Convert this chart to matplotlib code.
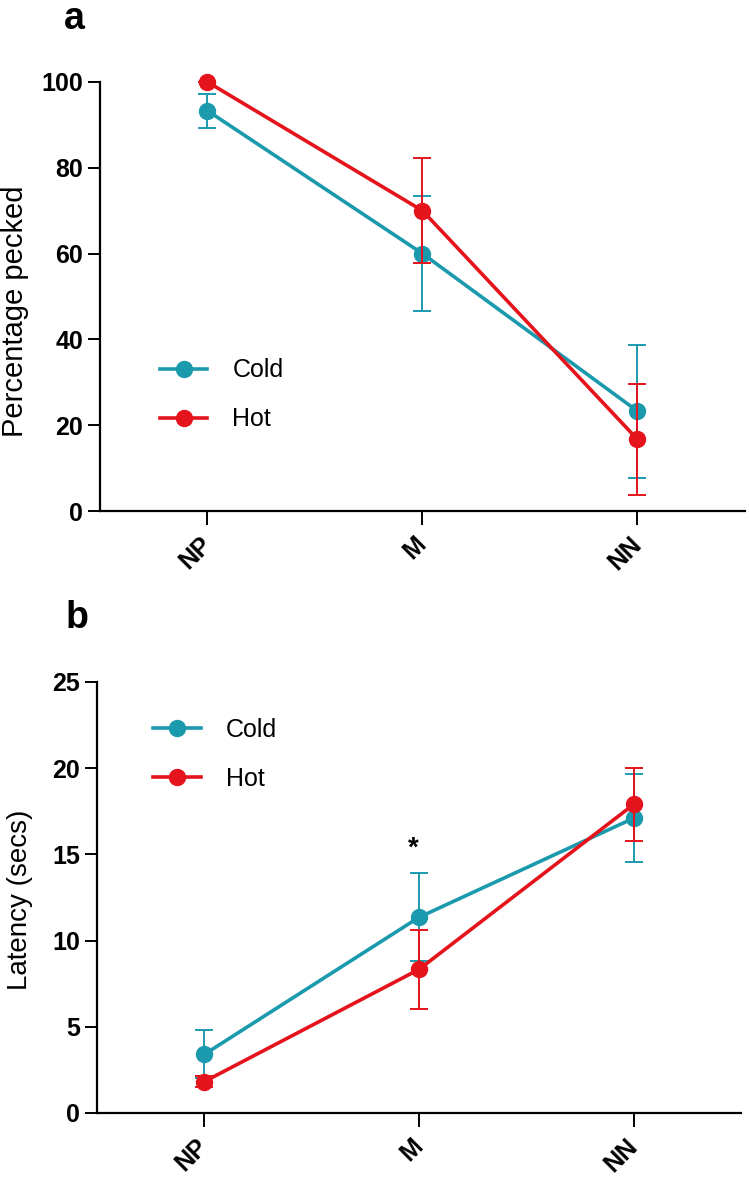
import numpy as np
import matplotlib
matplotlib.use("Agg")
import matplotlib.pyplot as plt
from matplotlib.lines import Line2D

plt.rcParams['font.family'] = ['Liberation Sans', 'DejaVu Sans']

# data
groups = ['NP', 'M', 'NN']

# panel a: percentage pecked
cold_pct = [93.3, 60.0, 23.3]
cold_pct_err = [4.0, 13.4, 15.5]
hot_pct = [100.0, 70.0, 16.7]
hot_pct_err = [0.0, 12.2, 13.0]

# panel b: latency (secs)
cold_lat = [3.4, 11.35, 17.1]
cold_lat_err = [1.4, 2.55, 2.55]
hot_lat = [1.82, 8.33, 17.9]
hot_lat_err = [0.3, 2.3, 2.1]

cold_col = '#1b9aae'
hot_col = '#e5131b'

fig = plt.figure(figsize=(7.49, 11.81), dpi=100)
ax1 = fig.add_axes([0.1335, 0.5673, 0.861, 0.3633])
ax2 = fig.add_axes([0.1295, 0.0576, 0.860, 0.3650])

x = np.arange(len(groups))


def draw(ax, cold, cold_err, hot, hot_err):
    ax.errorbar(x, cold, yerr=cold_err, color=cold_col, lw=2.6, marker='o', ms=11.5,
                elinewidth=1.4, capsize=6.5, capthick=1.4, zorder=3, clip_on=False)
    ax.errorbar(x, hot, yerr=hot_err, color=hot_col, lw=2.6, marker='o', ms=11.5,
                elinewidth=1.4, capsize=6.5, capthick=1.4, zorder=4, clip_on=False)
    ax.set_xlim(-0.5, 2.5)
    ax.set_xticks(x)
    ax.set_xticklabels(groups, rotation=45, ha='right', va='center',
                       rotation_mode='anchor', fontsize=18, fontweight='bold')
    for s in ['top', 'right']:
        ax.spines[s].set_visible(False)
    for s in ['left', 'bottom']:
        ax.spines[s].set_linewidth(1.6)
    ax.tick_params(axis='both', direction='out', length=9, width=1.4, labelsize=18)
    ax.tick_params(axis='x', length=10, pad=11)
    ax.tick_params(axis='y', pad=3)

    handles = [Line2D([], [], color=cold_col, lw=2.6, marker='o', ms=11.5),
               Line2D([], [], color=hot_col, lw=2.6, marker='o', ms=11.5)]
    return handles


h = draw(ax1, cold_pct, cold_pct_err, hot_pct, hot_pct_err)
ax1.set_ylim(0, 100)
ax1.set_yticks([0, 20, 40, 60, 80, 100])
for lab in ax1.get_yticklabels():
    lab.set_fontweight('bold')
ax1.legend(h, ['Cold', 'Hot'], loc='upper left', bbox_to_anchor=(0.093, 0.356),
           frameon=False, fontsize=18, handlelength=1.9, handletextpad=1.0,
           labelspacing=1.0, borderpad=0, borderaxespad=0)

h = draw(ax2, cold_lat, cold_lat_err, hot_lat, hot_lat_err)
ax2.set_ylim(0, 25)
ax2.set_yticks([0, 5, 10, 15, 20, 25])
for lab in ax2.get_yticklabels():
    lab.set_fontweight('bold')
ax2.legend(h, ['Cold', 'Hot'], loc='upper left', bbox_to_anchor=(0.087, 0.916),
           frameon=False, fontsize=18, handlelength=1.9, handletextpad=1.0,
           labelspacing=1.0, borderpad=0, borderaxespad=0)
ax2.text(0.975, 14.9, '*', ha='center', va='baseline', fontsize=20, fontweight='bold')

# axis titles and panel letters
fig.text(15 / 749, 1 - 311 / 1181, 'Percentage pecked', rotation=90,
         ha='center', va='center', fontsize=21)
fig.text(20 / 749, 1 - 900 / 1181, 'Latency (secs)', rotation=90,
         ha='center', va='center', fontsize=20)
fig.text(64 / 749, 1 - 29 / 1181, 'a', fontsize=27, fontweight='bold', va='baseline')
fig.text(66 / 749, 1 - 628 / 1181, 'b', fontsize=27, fontweight='bold', va='baseline')

fig.savefig('out.png', dpi=100)
